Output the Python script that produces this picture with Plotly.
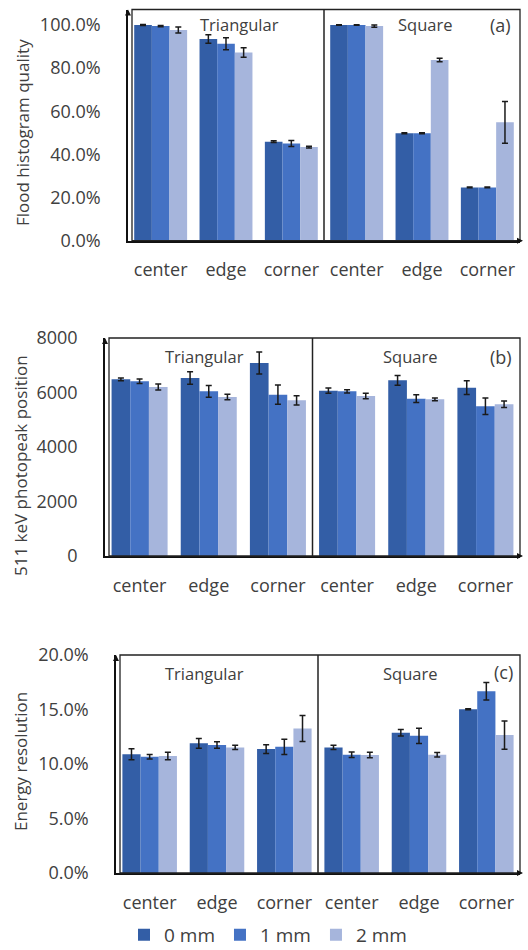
import plotly.graph_objects as go

# ---- data -------------------------------------------------------------
positions = ["center", "edge", "corner", "center", "edge", "corner"]
geometries = ["Triangular", "Square"]
series = ["0 mm", "1 mm", "2 mm"]
colors = ["#335ea6", "#4472c4", "#a6b5dc"]

# (a) flood histogram quality (fraction)
fhq_0 = [1.000, 0.935, 0.459, 1.000, 0.498, 0.247]
fhq_1 = [0.995, 0.913, 0.451, 1.000, 0.498, 0.247]
fhq_2 = [0.977, 0.873, 0.434, 0.995, 0.838, 0.549]
fhq_0_err = [0.002, 0.020, 0.004, 0.001, 0.002, 0.002]
fhq_1_err = [0.003, 0.028, 0.014, 0.001, 0.002, 0.002]
fhq_2_err = [0.014, 0.022, 0.004, 0.005, 0.008, 0.097]

# (b) 511 keV photopeak position (ADC channels)
pp_0 = [6484, 6533, 7082, 6068, 6447, 6178]
pp_1 = [6411, 6044, 5922, 6044, 5775, 5494]
pp_2 = [6203, 5837, 5714, 5873, 5751, 5568]
pp_0_err = [50, 230, 400, 100, 180, 250]
pp_1_err = [80, 215, 350, 60, 140, 300]
pp_2_err = [110, 100, 170, 100, 50, 120]

# (c) energy resolution (fraction)
er_0 = [0.1090, 0.1190, 0.1137, 0.1152, 0.1287, 0.1503]
er_1 = [0.1067, 0.1174, 0.1158, 0.1085, 0.1259, 0.1668]
er_2 = [0.1073, 0.1152, 0.1326, 0.1082, 0.1085, 0.1265]
er_0_err = [0.005, 0.0045, 0.004, 0.002, 0.003, 0.0005]
er_1_err = [0.002, 0.003, 0.007, 0.0025, 0.007, 0.008]
er_2_err = [0.0035, 0.002, 0.012, 0.0025, 0.002, 0.013]

y_ticks_a = [0, 0.2, 0.4, 0.6, 0.8, 1.0]
y_ticks_b = [0, 2000, 4000, 6000, 8000]
y_ticks_c = [0, 0.05, 0.10, 0.15, 0.20]

# ---- layout helpers ---------------------------------------------------
W, H = 528, 950
FONT = "Open Sans"
TXT = "#404040"


def fx(px):
    return px / W


def fy(py):
    return 1 - py / H


panels = [
    dict(vals=[fhq_0, fhq_1, fhq_2], errs=[fhq_0_err, fhq_1_err, fhq_2_err],
         left=128, right=520, top=9.5, bottom=240.7, yrange=[0, 1.072],
         ticks=y_ticks_a, fmt=".1%", title="Flood histogram quality",
         title_xy=(22, 133), tag="(a)", tag_xy=(500, 25),
         grp_xy=[(239, 24), (425, 24)]),
    dict(vals=[pp_0, pp_1, pp_2], errs=[pp_0_err, pp_1_err, pp_2_err],
         left=105, right=520, top=338, bottom=556, yrange=[0, 8000],
         ticks=y_ticks_b, fmt="d", title="511 keV photopeak position",
         title_xy=(20, 466), tag="(b)", tag_xy=(501, 357),
         grp_xy=[(204, 357), (410, 357)]),
    dict(vals=[er_0, er_1, er_2], errs=[er_0_err, er_1_err, er_2_err],
         left=116, right=520, top=655, bottom=873, yrange=[0, 0.2],
         ticks=y_ticks_c, fmt=".1%", title="Energy resolution",
         title_xy=(20, 762), tag="(c)", tag_xy=(503, 672),
         grp_xy=[(204, 673), (410, 673)]),
]

fig = go.Figure()
xpos = list(range(len(positions)))
annotations = []
shapes = []


def label(x, y, text, size, angle=0):
    return dict(xref="paper", yref="paper", x=fx(x), y=fy(y), text=text,
                textangle=angle, showarrow=False, xanchor="center",
                yanchor="middle",
                font=dict(family=FONT, size=size, color=TXT))


for i, p in enumerate(panels):
    n = "" if i == 0 else str(i + 1)
    xa, ya = "x" + n, "y" + n
    for s, name in enumerate(series):
        fig.add_trace(go.Bar(
            x=xpos, y=p["vals"][s], name=name, xaxis=xa, yaxis=ya,
            marker=dict(color=colors[s], line=dict(width=0)),
            error_y=dict(type="data", array=p["errs"][s], visible=True,
                         color="#1a1a1a", thickness=1.5, width=3),
            showlegend=(i == 0), legendgroup=name, offsetgroup=str(s),
        ))

    xdom = [fx(p["left"]), fx(p["right"])]
    ydom = [fy(p["bottom"]), fy(p["top"])]
    fig.layout["xaxis" + n] = dict(
        domain=xdom, range=[-0.5, 5.5], anchor=ya,
        tickvals=xpos, ticktext=positions, showgrid=False, zeroline=False,
        showline=True, linecolor="#111111", linewidth=2.2, ticks="",
        ticklabelstandoff=12,
        tickfont=dict(family=FONT, size=18, color=TXT), fixedrange=True,
    )
    fig.layout["yaxis" + n] = dict(
        domain=ydom, range=p["yrange"], anchor=xa,
        tickvals=p["ticks"], tickformat=p["fmt"], showgrid=False,
        zeroline=False, showline=True, linecolor="#111111", linewidth=1.5,
        ticks="", ticklabelstandoff=22,
        tickfont=dict(family=FONT, size=18, color=TXT), fixedrange=True,
    )

    # frame around the plotting area, set just inside the value axis
    shapes.append(dict(type="rect", xref="paper", yref="paper",
                       x0=fx(p["left"] + 4), x1=fx(p["right"]),
                       y0=ydom[0], y1=ydom[1],
                       line=dict(color="#222222", width=1.3)))
    # divider between the two geometries
    shapes.append(dict(type="line", xref=xa, yref=ya + " domain",
                       x0=2.5, x1=2.5, y0=0, y1=1,
                       line=dict(color="#222222", width=1.5)))

    # small arrow heads at the axis ends
    annotations.append(dict(xref="paper", yref="paper", x=xdom[0], y=ydom[1],
                            ax=0, ay=6, showarrow=True, arrowhead=2,
                            arrowsize=1, arrowwidth=1.2, arrowcolor="#111111",
                            text=""))
    annotations.append(dict(xref="paper", yref="paper", x=fx(p["right"] + 3),
                            y=ydom[0], ax=-6, ay=0, showarrow=True,
                            arrowhead=2, arrowsize=1, arrowwidth=1.2,
                            arrowcolor="#111111", text=""))

    annotations.append(label(*p["title_xy"], p["title"], 17, angle=-90))
    for g, (gx, gy) in zip(geometries, p["grp_xy"]):
        annotations.append(label(gx, gy, g, 16.5))
    annotations.append(label(*p["tag_xy"], p["tag"], 18))

fig.update_layout(
    width=W, height=H,
    margin=dict(l=0, r=0, t=0, b=0, autoexpand=False),
    paper_bgcolor="white", plot_bgcolor="white",
    barmode="group", bargap=0.19, bargroupgap=0,
    font=dict(family=FONT, color=TXT),
    shapes=shapes, annotations=annotations,
    legend=dict(orientation="h", x=fx(268), xanchor="center",
                y=-0.004, yanchor="bottom",
                font=dict(family=FONT, size=19, color=TXT),
                itemwidth=30, tracegroupgap=0, bgcolor="rgba(0,0,0,0)"),
)

fig.write_html("out.html")
